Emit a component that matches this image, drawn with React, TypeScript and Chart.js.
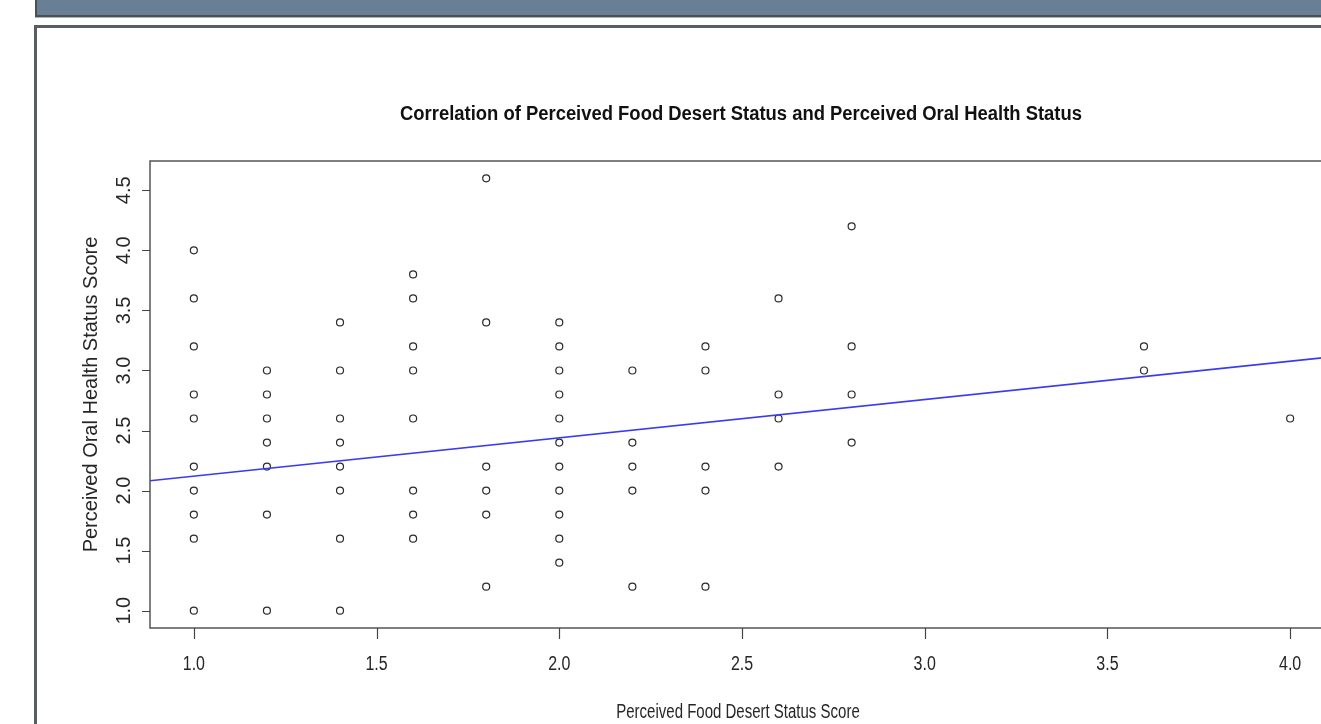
import React, { useEffect, useRef } from "react";
import { Chart, registerables } from "chart.js";

Chart.register(...registerables);

const chartTitle = "Correlation of Perceived Food Desert Status and Perceived Oral Health Status";
const xAxisTitle = "Perceived Food Desert Status Score";
const yAxisTitle = "Perceived Oral Health Status Score";

const xTickValues = [1.0, 1.5, 2.0, 2.5, 3.0, 3.5, 4.0];
const xTickLabels = ["1.0", "1.5", "2.0", "2.5", "3.0", "3.5", "4.0"];
const yTickValues = [1.0, 1.5, 2.0, 2.5, 3.0, 3.5, 4.0, 4.5];
const yTickLabels = ["1.0", "1.5", "2.0", "2.5", "3.0", "3.5", "4.0", "4.5"];

// Perceived food desert status score (x) of each respondent
const foodDesertScores = [
  1.0, 1.0, 1.0, 1.0, 1.0, 1.0, 1.0, 1.0, 1.0, 1.0,
  1.2, 1.2, 1.2, 1.2, 1.2, 1.2, 1.2,
  1.4, 1.4, 1.4, 1.4, 1.4, 1.4, 1.4, 1.4,
  1.6, 1.6, 1.6, 1.6, 1.6, 1.6, 1.6, 1.6,
  1.8, 1.8, 1.8, 1.8, 1.8, 1.8,
  2.0, 2.0, 2.0, 2.0, 2.0, 2.0, 2.0, 2.0, 2.0, 2.0, 2.0,
  2.2, 2.2, 2.2, 2.2, 2.2,
  2.4, 2.4, 2.4, 2.4, 2.4,
  2.6, 2.6, 2.6, 2.6,
  2.8, 2.8, 2.8, 2.8,
  3.6, 3.6,
  4.0,
];

// Perceived oral health status score (y) of each respondent
const oralHealthScores = [
  4.0, 3.6, 3.2, 2.8, 2.6, 2.2, 2.0, 1.8, 1.6, 1.0,
  3.0, 2.8, 2.6, 2.4, 2.2, 1.8, 1.0,
  3.4, 3.0, 2.6, 2.4, 2.2, 2.0, 1.6, 1.0,
  3.8, 3.6, 3.2, 3.0, 2.6, 2.0, 1.8, 1.6,
  4.6, 3.4, 2.2, 2.0, 1.8, 1.2,
  3.4, 3.2, 3.0, 2.8, 2.6, 2.4, 2.2, 2.0, 1.8, 1.6, 1.4,
  3.0, 2.4, 2.2, 2.0, 1.2,
  3.2, 3.0, 2.2, 2.0, 1.2,
  3.6, 2.8, 2.6, 2.2,
  4.2, 3.2, 2.8, 2.4,
  3.2, 3.0,
  2.6,
];

// Fitted regression line (at the plot edges)
const fitLineX = [0.88, 4.12];
const fitLineY = [2.082, 3.115];

const X_MIN = 0.88;
const X_MAX = 4.12;
const Y_MIN = 0.856;
const Y_MAX = 4.744;

const FONT = '"Liberation Sans", Arial, sans-serif';
const TICK_SQUEEZE = 0.8;
const XTITLE_SQUEEZE = 0.75;
const TITLE_SQUEEZE = 0.945;

const rAxesPlugin = {
  id: "rAxes",
  afterDraw(chart: any) {
    const { ctx, chartArea: a, scales } = chart;
    const xs = scales.x;
    const ys = scales.y;
    ctx.save();

    // plot box
    ctx.strokeStyle = "#555";
    ctx.lineWidth = 1.5;
    ctx.strokeRect(a.left, a.top, a.right - a.left, a.bottom - a.top);

    // ticks
    ctx.strokeStyle = "#444";
    ctx.lineWidth = 1.2;
    ctx.beginPath();
    xTickValues.forEach((v) => {
      const px = Math.round(xs.getPixelForValue(v)) + 0.5;
      ctx.moveTo(px, a.bottom);
      ctx.lineTo(px, a.bottom + 11);
    });
    yTickValues.forEach((v) => {
      const py = Math.round(ys.getPixelForValue(v)) + 0.5;
      ctx.moveTo(a.left, py);
      ctx.lineTo(a.left - 8, py);
    });
    ctx.stroke();

    // x tick labels (condensed)
    ctx.fillStyle = "#262626";
    ctx.font = `20px ${FONT}`;
    ctx.textAlign = "center";
    ctx.textBaseline = "middle";
    xTickValues.forEach((v, i) => {
      const px = xs.getPixelForValue(v);
      ctx.save();
      ctx.translate(px, 664);
      ctx.scale(TICK_SQUEEZE, 1);
      ctx.fillText(xTickLabels[i], 0, 0);
      ctx.restore();
    });

    // y tick labels (rotated)
    yTickValues.forEach((v, i) => {
      const py = ys.getPixelForValue(v);
      ctx.save();
      ctx.translate(124, py);
      ctx.rotate(-Math.PI / 2);
      ctx.fillText(yTickLabels[i], 0, 0);
      ctx.restore();
    });

    // x axis title
    ctx.save();
    ctx.translate((a.left + a.right) / 2 - 4, 712);
    ctx.scale(XTITLE_SQUEEZE, 1);
    ctx.fillText(xAxisTitle, 0, 0);
    ctx.restore();

    // y axis title
    ctx.save();
    ctx.translate(91, (a.top + a.bottom) / 2);
    ctx.rotate(-Math.PI / 2);
    ctx.fillText(yAxisTitle, 0, 0);
    ctx.restore();

    // main title
    ctx.fillStyle = "#111";
    ctx.font = `bold 19.5px ${FONT}`;
    ctx.save();
    ctx.translate(741, 115);
    ctx.scale(TITLE_SQUEEZE, 1);
    ctx.fillText(chartTitle, 0, 0);
    ctx.restore();

    ctx.restore();
  },
};

export default function App() {
  const canvasRef = useRef<HTMLCanvasElement | null>(null);

  useEffect(() => {
    const canvas = canvasRef.current;
    if (!canvas) return;
    const points = foodDesertScores.map((x, i) => ({ x, y: oralHealthScores[i] }));
    const fit = fitLineX.map((x, i) => ({ x, y: fitLineY[i] }));
    const chart = new Chart(canvas, {
      type: "scatter",
      data: {
        datasets: [
          {
            type: "line",
            label: "fit",
            data: fit,
            borderColor: "#3a3af2",
            borderWidth: 1.6,
            pointRadius: 0,
            fill: false,
            order: 0,
          } as any,
          {
            label: "respondents",
            data: points,
            pointStyle: "circle",
            pointRadius: 3.5,
            pointHoverRadius: 3.5,
            borderWidth: 1.2,
            borderColor: "#2a2a2a",
            backgroundColor: "rgba(0,0,0,0)",
            order: 1,
          },
        ],
      },
      options: {
        responsive: false,
        animation: false,
        devicePixelRatio: 1,
        layout: { padding: { left: 150, top: 161, right: 11, bottom: 96 } },
        plugins: {
          legend: { display: false },
          title: { display: false },
          tooltip: { enabled: false },
        },
        events: [],
        scales: {
          x: { type: "linear", min: X_MIN, max: X_MAX, display: false },
          y: { type: "linear", min: Y_MIN, max: Y_MAX, display: false },
        },
      },
      plugins: [rAxesPlugin],
    });
    return () => chart.destroy();
  }, []);

  return (
    <div
      style={{
        position: "fixed",
        left: 0,
        top: 0,
        width: 1321,
        height: 724,
        overflow: "hidden",
        background: "#fff",
      }}
    >
      <div
        style={{
          position: "absolute",
          left: 35,
          top: -3,
          width: 1400,
          height: 18,
          background: "#697f96",
          borderLeft: "2px solid #4b5057",
          borderBottom: "2px solid #4b5057",
          boxShadow: "0 1px 0 #b0b0b0",
        }}
      />
      <div
        style={{
          position: "absolute",
          left: 34,
          top: 25,
          width: 1400,
          height: 800,
          background: "#fff",
          borderLeft: "3px solid #5a5e63",
          borderTop: "3px solid #5a5e63",
        }}
      />
      <canvas
        ref={canvasRef}
        width={1345}
        height={724}
        style={{ position: "absolute", left: 0, top: 0, display: "block" }}
      />
    </div>
  );
}
